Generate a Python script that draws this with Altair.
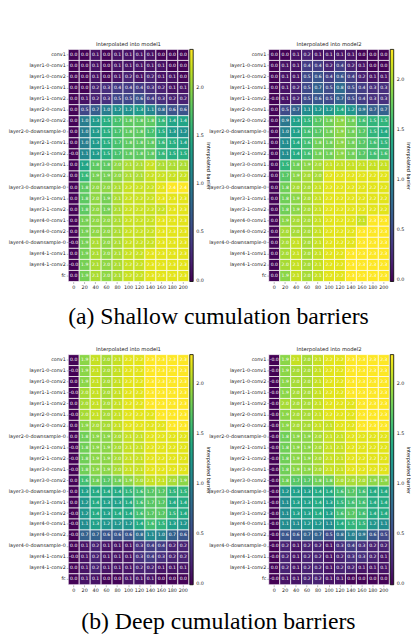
import altair as alt
import pandas as pd

rows = ["conv1", "layer1-0-conv1", "layer1-0-conv2", "layer1-1-conv1", "layer1-1-conv2",
        "layer2-0-conv1", "layer2-0-conv2", "layer2-0-downsample-0", "layer2-1-conv1",
        "layer2-1-conv2", "layer3-0-conv1", "layer3-0-conv2", "layer3-0-downsample-0",
        "layer3-1-conv1", "layer3-1-conv2", "layer4-0-conv1", "layer4-0-conv2",
        "layer4-0-downsample-0", "layer4-1-conv1", "layer4-1-conv2", "fc"]
steps = [0, 20, 40, 60, 80, 100, 120, 140, 160, 180, 200]

shallow_model1 = [
    [0.0, 0.0, 0.1, 0.0, 0.1, 0.1, 0.1, 0.1, 0.0, 0.0, 0.0],
    [0.0, 0.0, 0.1, 0.0, 0.1, 0.1, 0.1, 0.1, 0.1, 0.0, 0.0],
    [0.0, 0.0, 0.1, 0.0, 0.1, 0.2, 0.1, 0.2, 0.1, 0.1, 0.0],
    [0.0, 0.0, 0.2, 0.3, 0.4, 0.4, 0.4, 0.3, 0.2, 0.1, 0.1],
    [0.0, 0.1, 0.2, 0.3, 0.5, 0.5, 0.6, 0.4, 0.3, 0.2, 0.2],
    [0.0, 0.5, 0.7, 1.0, 1.2, 1.2, 1.3, 1.1, 0.8, 0.6, 0.6],
    [0.0, 1.0, 1.3, 1.5, 1.7, 1.8, 1.8, 1.8, 1.6, 1.4, 1.4],
    [0.0, 1.0, 1.3, 1.5, 1.7, 1.8, 1.8, 1.7, 1.5, 1.3, 1.2],
    [0.0, 1.0, 1.3, 1.5, 1.7, 1.8, 1.8, 1.8, 1.6, 1.5, 1.4],
    [-0.01, 1.1, 1.3, 1.5, 1.7, 1.8, 1.8, 1.8, 1.6, 1.5, 1.5],
    [0.0, 1.4, 1.8, 1.8, 2.0, 2.1, 2.1, 2.2, 2.1, 2.1, 2.1],
    [0.0, 1.6, 1.9, 1.9, 2.0, 2.1, 2.1, 2.2, 2.2, 2.2, 2.2],
    [0.0, 1.8, 2.0, 2.0, 2.1, 2.2, 2.2, 2.2, 2.3, 2.4, 2.4],
    [0.0, 1.8, 2.0, 1.9, 2.1, 2.2, 2.2, 2.2, 2.3, 2.3, 2.3],
    [0.0, 1.8, 2.0, 1.9, 2.1, 2.2, 2.2, 2.2, 2.2, 2.3, 2.3],
    [0.0, 1.9, 2.0, 2.0, 2.1, 2.2, 2.2, 2.2, 2.3, 2.3, 2.3],
    [0.0, 1.9, 2.0, 2.0, 2.1, 2.2, 2.2, 2.2, 2.3, 2.3, 2.3],
    [-0.01, 1.9, 2.1, 2.0, 2.1, 2.2, 2.2, 2.2, 2.3, 2.3, 2.3],
    [0.0, 1.9, 2.1, 2.0, 2.1, 2.2, 2.2, 2.3, 2.3, 2.3, 2.3],
    [-0.01, 1.9, 2.1, 2.0, 2.1, 2.2, 2.2, 2.3, 2.3, 2.3, 2.3],
    [0.0, 1.9, 2.1, 2.0, 2.1, 2.2, 2.2, 2.3, 2.3, 2.3, 2.3],
]

shallow_model2 = [
    [0.0, 0.0, 0.1, 0.2, 0.1, 0.1, 0.1, 0.1, 0.0, 0.0, 0.0],
    [0.0, 0.1, 0.1, 0.4, 0.4, 0.2, 0.4, 0.2, 0.1, 0.0, 0.0],
    [0.0, 0.1, 0.1, 0.5, 0.6, 0.4, 0.6, 0.4, 0.2, 0.1, 0.1],
    [0.0, 0.1, 0.2, 0.5, 0.7, 0.5, 0.8, 0.5, 0.4, 0.3, 0.3],
    [-0.01, 0.1, 0.2, 0.5, 0.6, 0.5, 0.7, 0.5, 0.4, 0.3, 0.3],
    [0.0, 0.5, 0.7, 1.1, 1.2, 1.2, 1.4, 1.2, 0.9, 0.7, 0.7],
    [0.0, 0.9, 1.3, 1.5, 1.7, 1.8, 1.9, 1.8, 1.6, 1.5, 1.5],
    [0.0, 1.0, 1.3, 1.6, 1.7, 1.8, 1.9, 1.8, 1.7, 1.5, 1.4],
    [0.0, 1.1, 1.4, 1.6, 1.8, 1.8, 1.9, 1.8, 1.7, 1.6, 1.5],
    [0.0, 1.1, 1.4, 1.6, 1.8, 1.8, 1.9, 1.8, 1.7, 1.6, 1.6],
    [0.0, 1.5, 1.8, 1.9, 2.0, 2.1, 2.1, 2.1, 2.1, 2.1, 2.1],
    [0.0, 1.7, 1.9, 2.0, 2.0, 2.2, 2.2, 2.2, 2.2, 2.2, 2.2],
    [0.0, 1.8, 2.0, 2.0, 2.1, 2.2, 2.2, 2.2, 2.2, 2.2, 2.2],
    [0.0, 1.8, 1.9, 2.0, 2.1, 2.2, 2.2, 2.2, 2.2, 2.2, 2.2],
    [0.0, 1.8, 1.9, 2.0, 2.1, 2.2, 2.2, 2.2, 2.2, 2.2, 2.2],
    [0.0, 1.9, 2.0, 2.0, 2.1, 2.2, 2.2, 2.2, 2.1, 2.3, 2.3],
    [0.0, 2.0, 2.0, 2.0, 2.1, 2.2, 2.2, 2.2, 2.3, 2.3, 2.3],
    [0.0, 2.0, 2.1, 2.0, 2.1, 2.2, 2.2, 2.2, 2.3, 2.3, 2.3],
    [0.0, 2.0, 2.1, 2.0, 2.1, 2.2, 2.2, 2.3, 2.3, 2.3, 2.3],
    [0.0, 2.0, 2.1, 2.0, 2.1, 2.2, 2.2, 2.3, 2.3, 2.3, 2.3],
    [0.0, 1.9, 2.1, 2.0, 2.1, 2.2, 2.2, 2.3, 2.3, 2.3, 2.3],
]

deep_model1 = [
    [0.0, 1.9, 2.1, 2.0, 2.1, 2.2, 2.2, 2.3, 2.3, 2.3, 2.3],
    [-0.01, 1.9, 2.1, 2.0, 2.1, 2.2, 2.2, 2.3, 2.3, 2.3, 2.3],
    [0.0, 1.9, 2.1, 2.0, 2.1, 2.2, 2.2, 2.3, 2.3, 2.3, 2.3],
    [-0.01, 2.0, 2.1, 2.0, 2.1, 2.2, 2.2, 2.3, 2.3, 2.3, 2.3],
    [0.0, 2.0, 2.1, 2.0, 2.1, 2.2, 2.2, 2.3, 2.3, 2.3, 2.3],
    [-0.01, 2.0, 2.1, 2.0, 2.1, 2.2, 2.2, 2.2, 2.3, 2.3, 2.3],
    [0.0, 1.9, 2.0, 2.0, 2.1, 2.2, 2.2, 2.2, 2.2, 2.3, 2.3],
    [0.0, 1.8, 1.9, 1.9, 2.0, 2.1, 2.1, 2.2, 2.2, 2.2, 2.2],
    [-0.01, 1.8, 1.9, 1.9, 2.0, 2.1, 2.1, 2.2, 2.2, 2.2, 2.2],
    [-0.01, 1.8, 1.9, 1.9, 2.0, 2.1, 2.1, 2.2, 2.2, 2.2, 2.2],
    [-0.01, 1.8, 1.9, 1.9, 2.0, 2.1, 2.1, 2.2, 2.2, 2.2, 2.2],
    [0.0, 1.6, 1.8, 1.7, 1.8, 1.9, 2.0, 2.1, 2.1, 2.0, 1.9],
    [0.0, 1.3, 1.4, 1.4, 1.4, 1.5, 1.6, 1.7, 1.7, 1.5, 1.5],
    [0.0, 1.2, 1.4, 1.3, 1.3, 1.4, 1.6, 1.7, 1.7, 1.4, 1.4],
    [-0.01, 1.2, 1.4, 1.3, 1.4, 1.4, 1.6, 1.7, 1.7, 1.5, 1.4],
    [-0.01, 1.1, 1.3, 1.2, 1.2, 1.2, 1.4, 1.6, 1.5, 1.3, 1.2],
    [-0.01, 0.7, 0.7, 0.6, 0.6, 0.6, 0.8, 1.1, 1.0, 0.7, 0.6],
    [0.0, 0.1, 0.2, 0.1, 0.1, 0.1, 0.3, 0.4, 0.4, 0.2, 0.2],
    [-0.01, 0.1, 0.2, 0.1, 0.1, 0.1, 0.3, 0.4, 0.3, 0.2, 0.2],
    [0.0, 0.1, 0.2, 0.1, 0.1, 0.1, 0.2, 0.2, 0.1, 0.1, 0.1],
    [0.0, 0.1, 0.1, 0.0, 0.0, 0.1, 0.1, 0.1, 0.0, 0.0, 0.0],
]

deep_model2 = [
    [-0.01, 1.9, 2.1, 2.0, 2.1, 2.2, 2.2, 2.3, 2.3, 2.3, 2.3],
    [-0.01, 1.9, 2.0, 2.0, 2.1, 2.2, 2.2, 2.3, 2.3, 2.3, 2.3],
    [-0.01, 1.9, 2.0, 2.0, 2.1, 2.2, 2.2, 2.3, 2.3, 2.3, 2.3],
    [-0.01, 1.9, 2.0, 2.0, 2.1, 2.2, 2.2, 2.3, 2.3, 2.3, 2.3],
    [-0.01, 2.0, 2.0, 2.0, 2.1, 2.2, 2.2, 2.2, 2.3, 2.3, 2.3],
    [-0.01, 1.9, 2.0, 2.0, 2.1, 2.2, 2.2, 2.2, 2.3, 2.3, 2.3],
    [-0.01, 1.9, 2.0, 2.0, 2.1, 2.1, 2.2, 2.2, 2.3, 2.3, 2.3],
    [-0.01, 1.8, 1.9, 1.9, 2.0, 2.1, 2.1, 2.2, 2.2, 2.2, 2.2],
    [-0.01, 1.8, 1.9, 1.9, 2.0, 2.1, 2.1, 2.2, 2.2, 2.2, 2.2],
    [-0.01, 1.8, 1.9, 1.9, 2.0, 2.1, 2.1, 2.2, 2.2, 2.2, 2.2],
    [-0.01, 1.8, 1.9, 1.9, 2.0, 2.1, 2.1, 2.2, 2.2, 2.2, 2.2],
    [-0.01, 1.8, 1.7, 1.7, 1.8, 1.8, 2.0, 2.0, 2.0, 1.9, 1.9],
    [-0.01, 1.2, 1.3, 1.3, 1.4, 1.4, 1.6, 1.7, 1.6, 1.4, 1.4],
    [-0.01, 1.1, 1.3, 1.3, 1.4, 1.3, 1.5, 1.6, 1.6, 1.4, 1.4],
    [-0.01, 1.1, 1.3, 1.3, 1.4, 1.3, 1.6, 1.7, 1.6, 1.4, 1.4],
    [-0.01, 1.1, 1.1, 1.2, 1.2, 1.1, 1.4, 1.5, 1.5, 1.2, 1.1],
    [-0.01, 0.6, 0.6, 0.7, 0.7, 0.5, 0.8, 1.0, 0.9, 0.6, 0.5],
    [-0.01, 0.2, 0.1, 0.2, 0.2, 0.1, 0.3, 0.4, 0.3, 0.2, 0.2],
    [-0.01, 0.2, 0.1, 0.2, 0.2, 0.1, 0.2, 0.3, 0.3, 0.2, 0.1],
    [0.0, 0.2, 0.1, 0.2, 0.2, 0.1, 0.2, 0.2, 0.1, 0.1, 0.1],
    [-0.01, 0.1, 0.1, 0.2, 0.2, 0.1, 0.1, 0.0, 0.0, 0.0, 0.0],
]

colorbar_ticks = [0.0, 0.5, 1.0, 1.5, 2.0]
panel_titles = ["Interpolated into model1", "Interpolated into model2"]
captions = ["(a) Shallow cumulation barriers", "(b) Deep cumulation barriers"]

FONT = "DejaVu Sans"
W = 122


def panel(values, title, height):
    recs = []
    for r, row in zip(rows, values):
        for s, v in zip(steps, row):
            recs.append({"layer": r, "step": s, "v": v})
    df = pd.DataFrame(recs)
    base = alt.Chart(df).encode(
        x=alt.X("step:O", sort=steps, title=None,
                axis=alt.Axis(labelAngle=0, domain=False, tickSize=2, tickWidth=0.6,
                              labelFontSize=4.9, labelPadding=1, labelFont=FONT,
                              labelColor="#222")),
        y=alt.Y("layer:N", sort=rows, title=None,
                axis=alt.Axis(domain=False, tickSize=2, tickWidth=0.6, labelFontSize=4.9,
                              labelPadding=1, labelFont=FONT, labelColor="#222",
                              labelLimit=200)),
    )
    rect = base.mark_rect(stroke="white", strokeWidth=0.7).encode(
        color=alt.Color("v:Q",
                        scale=alt.Scale(scheme="viridis", zero=False, nice=False),
                        legend=alt.Legend(
                            title="Interpolated barrier", orient="right",
                            direction="vertical", gradientLength=height,
                            gradientThickness=3.5, gradientStrokeColor="black",
                            gradientStrokeWidth=0.8, values=colorbar_ticks,
                            format=".1f", labelFontSize=4.9, labelFont=FONT,
                            labelOffset=3, labelOverlap=False, labelColor="#222",
                            titleOrient="right", titleFontSize=4.9, titleFont=FONT,
                            titleFontWeight="normal", titleAnchor="middle",
                            titlePadding=2, offset=1, padding=0,
                        )))
    text = base.transform_calculate(
        label="(datum.v < 0 ? '-' : '') + format(abs(datum.v), '.1f')"
    ).mark_text(fontSize=4.6, color="white", font=FONT).encode(text="label:N")
    return alt.layer(rect, text).properties(
        width=W, height=height,
        title=alt.TitleParams(title, fontSize=5.3, font=FONT, fontWeight="normal",
                              offset=2, color="#222"))


def row(m1, m2, caption, height, offset):
    return alt.hconcat(
        panel(m1, panel_titles[0], height),
        panel(m2, panel_titles[1], height),
        spacing=81, bounds="flush",
    ).resolve_scale(color="independent").properties(
        title=alt.TitleParams(caption, orient="bottom", anchor="middle",
                              font="Liberation Serif", fontSize=24, dx=9,
                              fontWeight="normal", offset=offset, color="black"))


chart = alt.vconcat(
    row(shallow_model1, shallow_model2, captions[0], 235, 16),
    row(deep_model1, deep_model2, captions[1], 233, 18),
    spacing=18,
).resolve_scale(color="independent").configure_view(stroke=None).properties(
    padding={"left": 0, "top": 30, "right": 0, "bottom": 0})

chart.save("out.html", embed_options={"renderer": "svg", "actions": False})
